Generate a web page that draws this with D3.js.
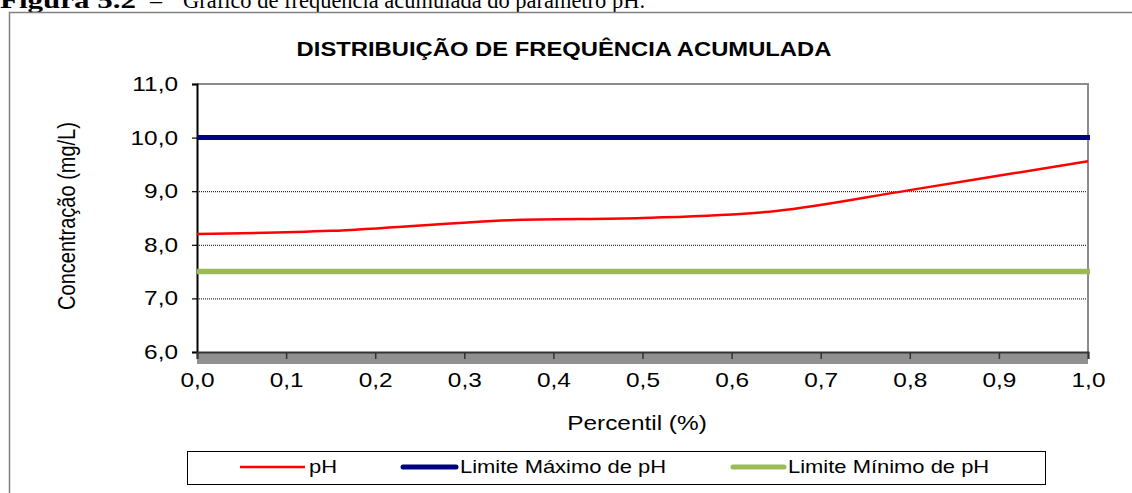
<!DOCTYPE html>
<html>
<head>
<meta charset="utf-8">
<script src="https://cdn.jsdelivr.net/npm/d3@7"></script>
<style>
  html, body { margin: 0; padding: 0; background: #fff; }
  svg { display: block; font-family: "Liberation Sans", Arial, sans-serif; }
</style>
</head>
<body>
<svg id="chart" width="1132" height="493"></svg>
<script>
// Distribuição de frequência acumulada — pH

const percentis = [0, 0.15, 0.35, 0.5, 0.65, 0.8, 1.0];
const phValues  = [8.20, 8.26, 8.46, 8.50, 8.63, 9.02, 9.56];
const limiteMax = 10.0;
const limiteMin = 7.5;
const yTicks = [6, 7, 8, 9, 10, 11];
const xTicks = [0, 0.1, 0.2, 0.3, 0.4, 0.5, 0.6, 0.7, 0.8, 0.9, 1.0];
const legendItems = ['pH', 'Limite Máximo de pH', 'Limite Mínimo de pH'];

const SX = 1.22;   // the source image is stretched horizontally
const fmt = v => d3.format('.1f')(v).replace('.', ',');

const svg = d3.select('#chart');
const plot = { left: 197, right: 1088, top: 84, bottom: 352 };

const x = d3.scaleLinear().domain([0, 1]).range([plot.left, plot.right]);
const y = d3.scaleLinear().domain([6, 11]).range([plot.bottom, plot.top]);

// horizontal-stretched text at (tx, ty)
function label(tx, ty, str, size, anchor) {
  return svg.append('text')
    .attr('transform', `translate(${tx},${ty}) scale(${SX},1)`)
    .attr('text-anchor', anchor || 'start')
    .style('font-size', size + 'px')
    .text(str);
}
// stretch axis tick texts in place
function stretchTicks(sel) {
  sel.each(function () {
    const t = d3.select(this);
    const x0 = +t.attr('x') || 0;
    t.attr('x', x0 / SX).attr('transform', `scale(${SX},1)`);
  });
}

// caption above the chart (cut by the page top)
const capStyle = s => s.style('font-family', '"Liberation Serif", "Times New Roman", serif').style('font-size', '24px');
svg.append('text').attr('x', 0).attr('y', 8).call(capStyle).style('font-weight', 'bold')
  .attr('textLength', 136).attr('lengthAdjust', 'spacingAndGlyphs').text('Figura 5.2');
svg.append('text').attr('x', 150).attr('y', 8).call(capStyle).text('–');
svg.append('text').attr('x', 183).attr('y', 8).call(capStyle)
  .attr('textLength', 462).attr('lengthAdjust', 'spacingAndGlyphs')
  .text('Gráfico de frequência acumulada do parâmetro pH.');

// outer chart border
svg.append('rect').attr('x', 9.5).attr('y', 12.5).attr('width', 1140).attr('height', 500)
  .attr('fill', 'none').attr('stroke', '#808080').attr('stroke-width', 1.5);

// title
label(564, 56, 'DISTRIBUIÇÃO DE FREQUÊNCIA ACUMULADA', 19.5, 'middle').style('font-weight', 'bold');

// grid (dotted)
svg.append('g').selectAll('line').data(yTicks.filter(t => t > 6 && t < 11)).join('line')
  .attr('x1', plot.left).attr('x2', plot.right)
  .attr('y1', d => y(d) + 0.5).attr('y2', d => y(d) + 0.5)
  .attr('stroke', '#000').attr('stroke-width', 1).attr('stroke-dasharray', '1,1');

// plot frame top/right
svg.append('path')
  .attr('d', `M${plot.left},${plot.top}H${plot.right}V${plot.bottom}`)
  .attr('fill', 'none').attr('stroke', '#8c8c8c').attr('stroke-width', 2);

// floor band
svg.append('rect').attr('x', plot.left).attr('y', plot.bottom)
  .attr('width', plot.right - plot.left).attr('height', 12)
  .attr('fill', '#909090');

// y axis
const yAxis = svg.append('g').attr('transform', `translate(${plot.left},0)`)
  .call(d3.axisLeft(y).tickValues(yTicks).tickFormat(fmt).tickSize(5).tickPadding(14));
yAxis.select('.domain').attr('stroke', '#000').attr('stroke-width', 2);
yAxis.selectAll('.tick line').attr('stroke', '#000').attr('stroke-width', 1.2);
yAxis.selectAll('.tick text').style('font-size', '20px').attr('fill', '#000')
  .call(stretchTicks);
yAxis.attr('font-family', null).attr('font-size', null);

// x axis
const xAxis = svg.append('g').attr('transform', `translate(0,${plot.bottom})`)
  .call(d3.axisBottom(x).tickValues(xTicks).tickFormat(fmt).tickSize(7).tickPadding(14));
xAxis.select('.domain').attr('stroke', '#333').attr('stroke-width', 2);
xAxis.selectAll('.tick line').attr('stroke', '#333').attr('stroke-width', 1.5);
xAxis.selectAll('.tick text').style('font-size', '20px').attr('fill', '#000')
  .call(stretchTicks);
xAxis.attr('font-family', null).attr('font-size', null);

// axis titles
label(637, 430, 'Percentil (%)', 20, 'middle');
svg.append('text')
  .attr('transform', `translate(75,216) scale(${SX},1) rotate(-90)`)
  .attr('text-anchor', 'middle')
  .style('font-size', '20px').text('Concentração (mg/L)');

// limit lines
svg.append('line').attr('x1', plot.left).attr('x2', plot.right + 2)
  .attr('y1', y(limiteMin)).attr('y2', y(limiteMin))
  .attr('stroke', '#9BBB59').attr('stroke-width', 5.5);
svg.append('line').attr('x1', plot.left).attr('x2', plot.right + 2)
  .attr('y1', y(limiteMax)).attr('y2', y(limiteMax))
  .attr('stroke', '#000080').attr('stroke-width', 5);

// pH curve
const line = d3.line().x(d => x(d[0])).y(d => y(d[1])).curve(d3.curveCatmullRom.alpha(0.5));
svg.append('path').datum(percentis.map((p, i) => [p, phValues[i]]))
  .attr('d', line).attr('fill', 'none').attr('stroke', '#FF0000').attr('stroke-width', 2.5);

// legend
svg.append('rect').attr('x', 187.5).attr('y', 451.5).attr('width', 858).attr('height', 33)
  .attr('fill', '#fff').attr('stroke', '#000').attr('stroke-width', 1);
const legendStyle = [
  { x1: 240, x2: 305, color: '#FF0000', w: 2.5 },
  { x1: 403, x2: 456, color: '#000080', w: 5 },
  { x1: 733, x2: 784, color: '#9BBB59', w: 5 },
];
legendItems.forEach((name, i) => {
  const s = legendStyle[i];
  svg.append('line').attr('x1', s.x1).attr('x2', s.x2).attr('y1', 467).attr('y2', 467)
    .attr('stroke', s.color).attr('stroke-width', s.w).attr('stroke-linecap', i ? 'round' : 'butt');
  label(s.x2 + 4, 473, name, 18);
});
</script>
</body>
</html>
